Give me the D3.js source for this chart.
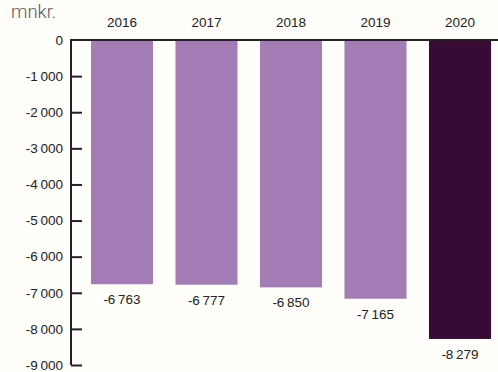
<!DOCTYPE html>
<html><head><meta charset="utf-8">
<script src="https://cdn.jsdelivr.net/npm/d3@7"></script>
<style>body{margin:0;background:#fffefa;}svg{display:block;font-family:"Liberation Sans",Arial,sans-serif;}</style>
</head><body><svg id="c" width="498" height="372"></svg>
<script>
const categories = ["2016","2017","2018","2019","2020"];
const values = [-6763,-6777,-6850,-7165,-8279];
const tickValues = [0,-1000,-2000,-3000,-4000,-5000,-6000,-7000,-8000,-9000];
const colors = ["#a47cb6","#a47cb6","#a47cb6","#a47cb6","#370b34"];

const svg = d3.select("#c");
const loc = d3.formatLocale({decimal:",",thousands:"\u2009",grouping:[3],currency:["",""],minus:"-"});
const fmt = loc.format(",d");

const x = d3.scaleBand().domain(categories).range([80,502]).paddingInner(0.266).paddingOuter(0.13);
const y = d3.scaleLinear().domain([0,-9000]).range([40,365]);

svg.append("text").attr("x",11).attr("y",18).attr("font-size",18.5).attr("fill","#555")
  .attr("font-family","Roboto, sans-serif").attr("font-weight",300).text("mnkr.");

svg.selectAll("rect.bar").data(values).join("rect").attr("class","bar")
  .attr("x",(d,i)=>x(categories[i])).attr("width",x.bandwidth())
  .attr("y",y(0)).attr("height",d=>y(d)-y(0)).attr("fill",(d,i)=>colors[i]);

const ax = d3.axisLeft(y).tickValues(tickValues).tickFormat(fmt).tickSizeInner(-11).tickSizeOuter(0).tickPadding(8);
const g = svg.append("g").attr("transform","translate(71,0)").call(ax);
g.select(".domain").remove();
g.selectAll(".tick line").attr("stroke","#222").attr("stroke-width",2);
g.selectAll(".tick").filter(d=>d===0).select("line").remove();
g.selectAll(".tick text").attr("font-size",13.5).attr("fill","#222").attr("font-family","Liberation Sans, Arial, sans-serif");

// axis frame: top baseline and vertical axis
svg.append("path").attr("fill","none").attr("stroke","#222").attr("stroke-width",2)
  .attr("d", d3.line()([[498,y(0)],[71,y(0)],[71,y(-9000)]]));

svg.selectAll("text.year").data(categories).join("text").attr("class","year")
  .attr("x",d=>x(d)+x.bandwidth()/2).attr("y",27).attr("text-anchor","middle")
  .attr("font-size",13.5).attr("fill","#222").text(d=>d);

svg.selectAll("text.val").data(values).join("text").attr("class","val")
  .attr("x",(d,i)=>x(categories[i])+x.bandwidth()/2).attr("y",d=>y(d)+20).attr("text-anchor","middle")
  .attr("font-size",13.5).attr("fill","#222").text(d=>fmt(d));
</script></body></html>
